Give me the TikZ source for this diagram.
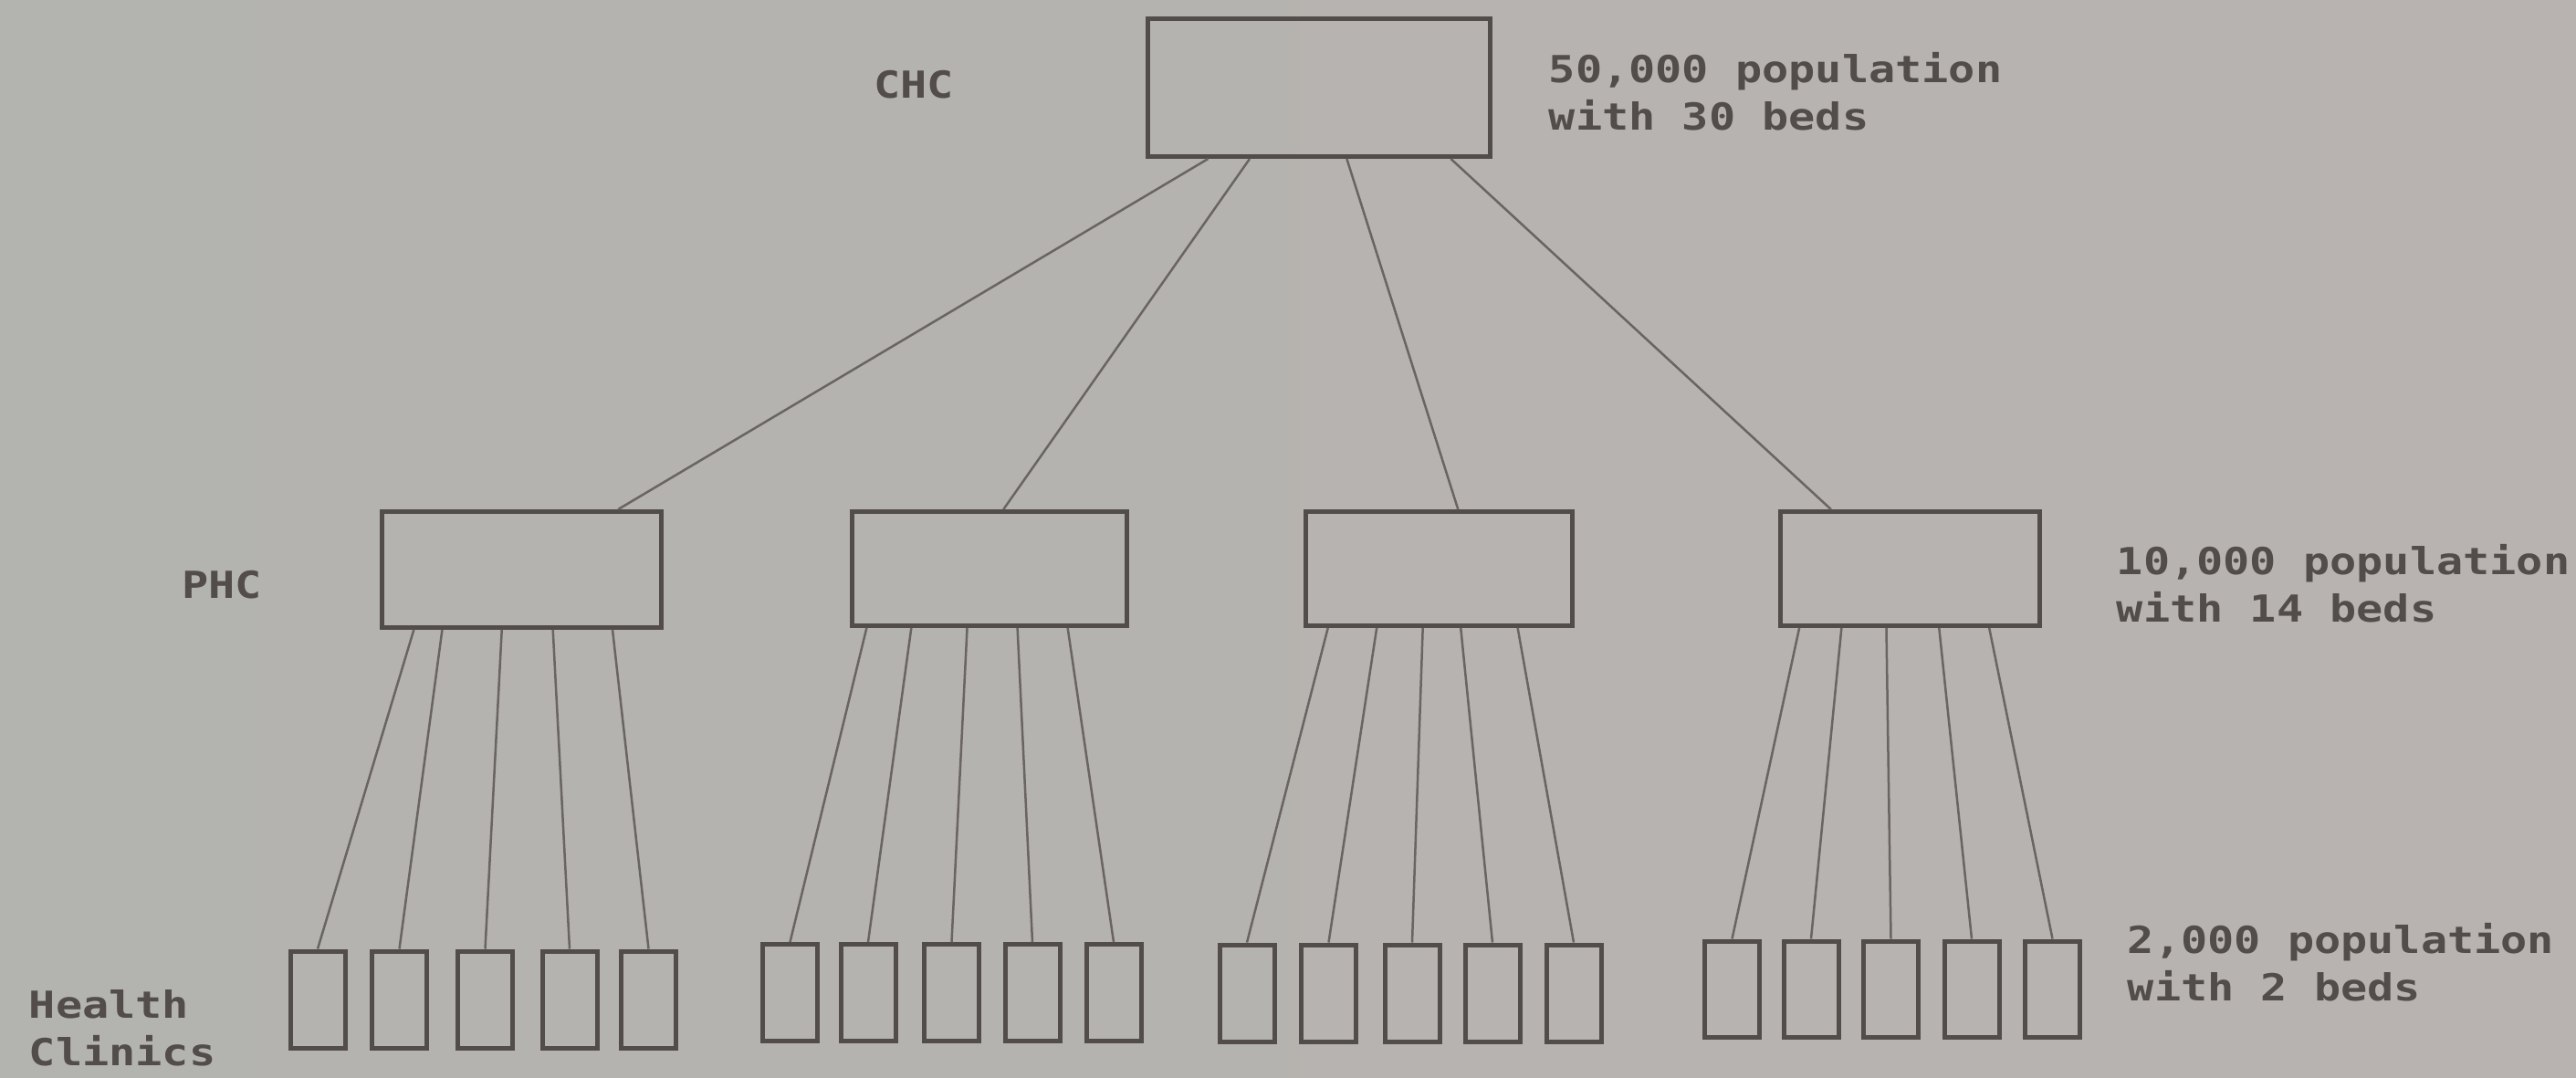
\documentclass[tikz,border=0pt]{standalone}
\usepackage{fontspec}
\newfontfamily\typefont{DejaVu Sans Mono}
\usetikzlibrary{calc}
\definecolor{paper}{HTML}{BEB5B3}
\definecolor{paperL}{HTML}{B3B3AF}
\definecolor{paperR}{HTML}{B8B3B0}
\definecolor{ink}{HTML}{524C4A}
\definecolor{wire}{HTML}{6A6462}
\begin{document}
\begin{tikzpicture}[x=1cm,y=1cm,
  box/.style={draw=ink, line width=0.05cm, rectangle, inner sep=0pt},
  clinic/.style={box, minimum width=0.60cm},
  link/.style={draw=wire, line width=0.025cm},
  typed/.style={text=ink, inner sep=0pt, font=\typefont\bfseries\fontsize{11.6}{14.6}\selectfont, xscale=1.19, align=left}]
\useasboundingbox (0,0) rectangle (28.22,-11.8);
\shade[left color=paperL, middle color=paper, right color=paperR] (0,0) rectangle (28.22,-11.8);

% top level
\node[box, minimum width=3.75cm, minimum height=1.51cm] (chc) at (14.45,-0.96) {};
% middle level
\node[box, minimum width=3.06cm, minimum height=1.27cm] (phc1) at (5.715,-6.24) {};
\node[box, minimum width=3.01cm, minimum height=1.25cm] (phc2) at (10.84,-6.23) {};
\node[box, minimum width=2.92cm, minimum height=1.25cm] (phc3) at (15.765,-6.23) {};
\node[box, minimum width=2.84cm, minimum height=1.25cm] (phc4) at (20.925,-6.23) {};

% clinics
\node[clinic, minimum height=1.06cm] (c11) at (3.48,-10.95) {};
\node[clinic, minimum height=1.06cm] (c12) at (4.375,-10.95) {};
\node[clinic, minimum height=1.06cm] (c13) at (5.315,-10.95) {};
\node[clinic, minimum height=1.06cm] (c14) at (6.24,-10.95) {};
\node[clinic, minimum height=1.06cm] (c15) at (7.105,-10.95) {};

\node[clinic, minimum height=1.06cm] (c21) at (8.655,-10.875) {};
\node[clinic, minimum height=1.06cm] (c22) at (9.51,-10.875) {};
\node[clinic, minimum height=1.06cm] (c23) at (10.425,-10.875) {};
\node[clinic, minimum height=1.06cm] (c24) at (11.31,-10.875) {};
\node[clinic, minimum height=1.06cm] (c25) at (12.20,-10.875) {};

\node[clinic, minimum height=1.06cm] (c31) at (13.66,-10.88) {};
\node[clinic, minimum height=1.06cm] (c32) at (14.555,-10.88) {};
\node[clinic, minimum height=1.06cm] (c33) at (15.47,-10.88) {};
\node[clinic, minimum height=1.06cm] (c34) at (16.35,-10.88) {};
\node[clinic, minimum height=1.06cm] (c35) at (17.24,-10.88) {};

\node[clinic, minimum height=1.05cm] (c41) at (18.975,-10.835) {};
\node[clinic, minimum height=1.05cm] (c42) at (19.84,-10.835) {};
\node[clinic, minimum height=1.05cm] (c43) at (20.715,-10.835) {};
\node[clinic, minimum height=1.05cm] (c44) at (21.60,-10.835) {};
\node[clinic, minimum height=1.05cm] (c45) at (22.485,-10.835) {};

% connectors CHC -> PHC
\draw[link] ($(chc.south west)!0.18!(chc.south east)$) -- ($(phc1.north west)!0.84!(phc1.north east)$);
\draw[link] ($(chc.south west)!0.30!(chc.south east)$) -- ($(phc2.north west)!0.55!(phc2.north east)$);
\draw[link] ($(chc.south west)!0.58!(chc.south east)$) -- ($(phc3.north west)!0.57!(phc3.north east)$);
\draw[link] ($(chc.south west)!0.88!(chc.south east)$) -- ($(phc4.north west)!0.20!(phc4.north east)$);

% connectors PHC -> clinics
\foreach \f/\c in {0.12/c11, 0.22/c12, 0.43/c13, 0.61/c14, 0.82/c15}
  \draw[link] ($(phc1.south west)!\f!(phc1.south east)$) -- (\c.north);
\foreach \f/\c in {0.06/c21, 0.22/c22, 0.42/c23, 0.60/c24, 0.78/c25}
  \draw[link] ($(phc2.south west)!\f!(phc2.south east)$) -- (\c.north);
\foreach \f/\c in {0.09/c31, 0.27/c32, 0.44/c33, 0.58/c34, 0.79/c35}
  \draw[link] ($(phc3.south west)!\f!(phc3.south east)$) -- (\c.north);
\foreach \f/\c in {0.08/c41, 0.24/c42, 0.41/c43, 0.61/c44, 0.80/c45}
  \draw[link] ($(phc4.south west)!\f!(phc4.south east)$) -- (\c.north);

% labels
\node[typed, anchor=base] (chclbl) at (10.01,-1.07) {CHC};
\node[typed, anchor=base] (phclbl) at (2.43,-6.55) {PHC};
\node[typed, anchor=north west] (chcinfo) at (16.96,-0.57) {50,000 population\\with 30 beds};
\node[typed, anchor=north west] (phcinfo) at (23.18,-5.96) {10,000 population\\with 14 beds};
\node[typed, anchor=north west] (clininfo) at (23.30,-10.11) {2,000 population\\with 2 beds};
\node[typed, anchor=north west] (clinlbl) at (0.31,-10.84) {Health\\Clinics};
\end{tikzpicture}
\end{document}
